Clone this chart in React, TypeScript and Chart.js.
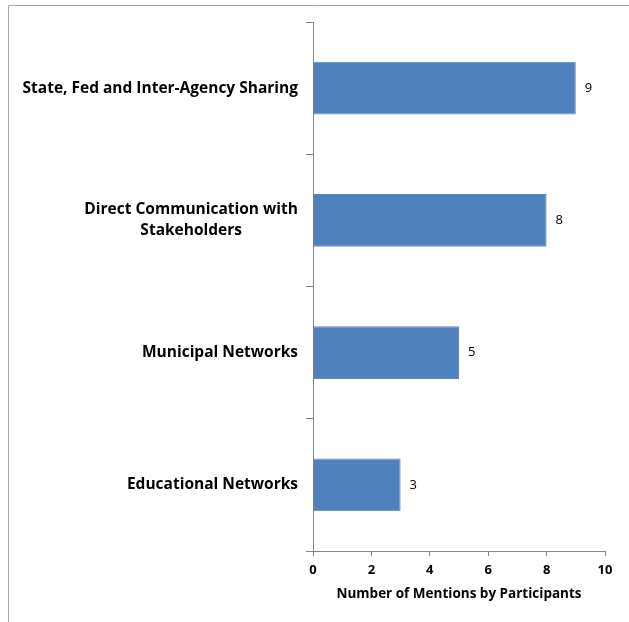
import React, { useEffect, useRef } from "react";
import { Chart, registerables } from "chart.js";

Chart.register(...registerables);

const categories: string[][] = [
  ["State, Fed and Inter-Agency Sharing"],
  ["Direct Communication with", "Stakeholders"],
  ["Municipal Networks"],
  ["Educational Networks"],
];
const mentions: number[] = [9, 8, 5, 3];
const xTicks: number[] = [0, 2, 4, 6, 8, 10];
const xTitle = "Number of Mentions by Participants";

const FONT = "'Open Sans', Lato, sans-serif";

const framePlugin = {
  id: "frame",
  beforeDraw(chart: any) {
    const ctx = chart.ctx;
    ctx.save();
    ctx.strokeStyle = "#a6a6a6";
    ctx.lineWidth = 1;
    ctx.beginPath();
    ctx.moveTo(8.5, chart.height);
    ctx.lineTo(8.5, 5.5);
    ctx.lineTo(chart.width, 5.5);
    ctx.stroke();
    ctx.restore();
  },
};

const labelsPlugin = {
  id: "customLabels",
  afterDraw(chart: any) {
    const ctx = chart.ctx;
    const yScale = chart.scales.y;
    ctx.save();
    ctx.font = `bold 15.5px ${FONT}`;
    ctx.fillStyle = "#000";
    ctx.textBaseline = "middle";
    ctx.textAlign = "center";
    const right = 298;
    const lh = 21;
    categories.forEach((lines, i) => {
      const cy = yScale.getPixelForValue(i);
      const maxW = Math.max(...lines.map((l) => ctx.measureText(l).width));
      const cx = right - maxW / 2;
      const startY = cy - ((lines.length - 1) * lh) / 2;
      lines.forEach((l, j) => ctx.fillText(l, cx, startY + j * lh));
    });
    ctx.font = `13px ${FONT}`;
    ctx.textAlign = "left";
    const meta = chart.getDatasetMeta(0);
    meta.data.forEach((bar: any, i: number) => {
      ctx.fillText(String(mentions[i]), bar.x + 9, bar.y);
    });
    ctx.restore();
  },
};

export default function App() {
  const ref = useRef<HTMLCanvasElement | null>(null);
  useEffect(() => {
    document.body.style.margin = "0";
    const chart = new Chart(ref.current!, {
      type: "bar",
      data: {
        labels: categories.map((c) => c.join(" ")),
        datasets: [
          {
            data: mentions,
            backgroundColor: "#4F81BD",
            borderColor: "#5a8ac6",
            borderWidth: 1,
            categoryPercentage: 1,
            barPercentage: 0.4,
          },
        ],
      },
      options: {
        indexAxis: "y",
        animation: false,
        responsive: false,
        devicePixelRatio: 1,
        layout: { padding: { top: 22, right: 24, left: 0, bottom: 0 } },
        plugins: { legend: { display: false }, tooltip: { enabled: false } },
        scales: {
          x: {
            min: 0,
            max: 10,
            afterBuildTicks: (s: any) => {
              s.ticks = xTicks.map((v) => ({ value: v }));
            },
            afterFit: (s: any) => {
              s.height = 71;
            },
            border: { display: true, color: "#868686", width: 1 },
            grid: {
              drawOnChartArea: false,
              drawTicks: true,
              tickLength: 5,
              color: "#868686",
            },
            ticks: {
              color: "#000",
              padding: 6,
              font: { family: FONT, size: 13, weight: "bold" },
              maxRotation: 0,
            },
            title: {
              display: true,
              text: xTitle,
              color: "#000",
              font: { family: FONT, size: 13.5, weight: "bold" },
              padding: { top: 0, bottom: 20 },
            },
          },
          y: {
            afterFit: (s: any) => {
              s.width = 313;
            },
            border: { display: true, color: "#868686", width: 1 },
            grid: {
              offset: true,
              drawOnChartArea: false,
              drawTicks: true,
              tickLength: 7,
              color: "#868686",
            },
            ticks: { color: "transparent", font: { family: FONT, size: 14 } },
          },
        },
      },
      plugins: [framePlugin, labelsPlugin],
    });
    return () => chart.destroy();
  }, []);
  return <canvas ref={ref} width={629} height={622} style={{ display: "block" }} />;
}
